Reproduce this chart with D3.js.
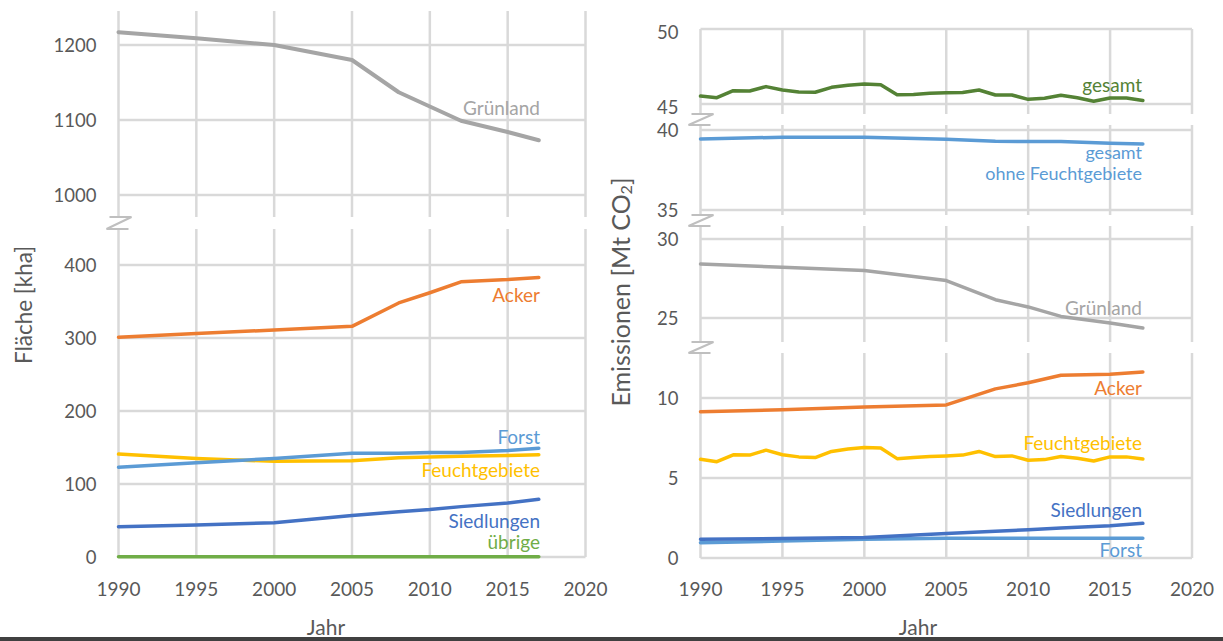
<!DOCTYPE html>
<html lang="de">
<head>
<meta charset="utf-8">
<script src="https://cdn.jsdelivr.net/npm/d3@7"></script>
<style>
  html, body { margin: 0; padding: 0; background: #fff; }
  svg { display: block; font-family: Lato, "Open Sans", sans-serif; }
</style>
</head>
<body>
<svg id="chart" width="1223" height="641"></svg>
<script>
// ---- Fläche (kha) ----
const yearsArea = [1990, 1995, 2000, 2005, 2008, 2010, 2012, 2015, 2017];
const areaGruenland = [1217, 1209, 1200, 1180, 1137, 1118, 1099, 1084, 1073];
const areaAcker = [301, 306, 311, 316, 348, 362, 377, 380, 383];
const areaForst = [123, 129, 135, 142, 142, 143, 143, 146, 149];
const areaFeucht = [141, 135, 131, 132, 136, 137, 138, 139, 140];
const areaSiedlungen = [41.5, 44, 47, 57, 62, 65, 69, 74, 79];
const areaUebrige = [0.5, 0.5, 0.5, 0.5, 0.5, 0.5, 0.5, 0.5, 0.5];

// ---- Emissionen (Mt CO2) ----
const yearsEm = d3.range(1990, 2018);
const emGesamt = [45.53, 45.42, 45.89, 45.87, 46.16, 45.93, 45.80, 45.78, 46.11, 46.25,
                  46.34, 46.29, 45.62, 45.64, 45.71, 45.75, 45.77, 45.93, 45.60, 45.60,
                  45.31, 45.38, 45.58, 45.42, 45.18, 45.40, 45.40, 45.24];
const emFeucht = [6.17, 6.02, 6.45, 6.43, 6.74, 6.45, 6.32, 6.28, 6.66, 6.81,
                  6.91, 6.87, 6.21, 6.28, 6.34, 6.38, 6.43, 6.66, 6.34, 6.38,
                  6.11, 6.15, 6.34, 6.23, 6.06, 6.32, 6.32, 6.19];
const yearsEmKey = [1990, 1995, 2000, 2005, 2008, 2010, 2012, 2015, 2017];
const emOhneFeucht = [39.44, 39.55, 39.55, 39.42, 39.30, 39.28, 39.28, 39.17, 39.13];
const emGruenland = [28.42, 28.21, 28.00, 27.37, 26.16, 25.70, 25.10, 24.68, 24.37];
const emAcker = [9.14, 9.26, 9.43, 9.57, 10.57, 10.95, 11.42, 11.49, 11.63];
const emSiedlungen = [1.17, 1.22, 1.28, 1.53, 1.67, 1.77, 1.87, 2.02, 2.17];
const emForst = [0.96, 1.06, 1.17, 1.23, 1.23, 1.23, 1.23, 1.23, 1.23];

const xTicks = [1990, 1995, 2000, 2005, 2010, 2015, 2020];

const C = {
  grid: "#d9d9d9", brk: "#bfbfbf", text: "#595959",
  gruen: "#a5a5a5", acker: "#ed7d31", forst: "#5b9bd5", feucht: "#ffc000",
  sied: "#4472c4", uebrig: "#70ad47", gesamt: "#548235"
};

const svg = d3.select("#chart");

// One broken-axis chart: several stacked panels sharing an x scale.
function drawChart(cfg) {
  const g = svg.append("g");
  const x = cfg.x;
  const ax = x(1990), xEnd = x(2020);

  cfg.panels.forEach(p => {
    p.y = d3.scaleLinear().domain(p.domain).range(p.range);
    // vertical grid lines (1990 doubles as the y axis)
    g.append("g").selectAll("line").data(xTicks).join("line")
      .attr("x1", d => x(d)).attr("x2", d => x(d))
      .attr("y1", p.top).attr("y2", p.bottom)
      .attr("stroke", C.grid).attr("stroke-width", 2.5);
    // horizontal grid lines
    g.append("g").selectAll("line").data(p.ticks).join("line")
      .attr("x1", ax).attr("x2", xEnd)
      .attr("y1", d => p.y(d)).attr("y2", d => p.y(d))
      .attr("stroke", C.grid).attr("stroke-width", 2.5);
    // tick labels
    g.append("g").selectAll("text").data(p.ticks).join("text")
      .attr("x", ax - 22).attr("y", d => p.y(d) + (p.labelShift || 0)).attr("dy", "0.36em")
      .attr("text-anchor", "end").attr("font-size", 18.5).attr("fill", C.text)
      .text(d => d);
  });

  // axis break symbols
  cfg.breaks.forEach(([yt, yb]) => {
    g.append("path")
      .attr("d", `M${ax - 9},${yt} H${ax + 13} L${ax - 12},${yb} H${ax + 10}`)
      .attr("fill", "none").attr("stroke", C.brk).attr("stroke-width", 2);
  });

  // x tick labels
  g.append("g").selectAll("text").data(xTicks).join("text")
    .attr("x", d => x(d)).attr("y", 596)
    .attr("text-anchor", "middle").attr("font-size", 19).attr("fill", C.text)
    .text(d => d);

  // series
  cfg.series.forEach(s => {
    const p = cfg.panels[s.panel];
    const pts = s.years.map((yr, i) => [yr, s.values[i]]);
    const line = d3.line().x(d => x(d[0])).y(d => p.y(d[1])).curve(d3.curveLinear);
    g.append("path").datum(pts)
      .attr("d", line).attr("fill", "none")
      .attr("stroke", s.color).attr("stroke-width", s.width || 3.5)
      .attr("stroke-linejoin", "round").attr("stroke-linecap", "round");
  });

  // series labels (one text element per line)
  cfg.labels.forEach(l => {
    l.lines.forEach((txt, i) => {
      g.append("text")
        .attr("x", cfg.labelX).attr("y", l.y + i * (l.lead || 0))
        .attr("text-anchor", "end").attr("font-size", l.size || 19).attr("fill", l.color)
        .text(txt);
    });
  });
}

// Left: area
const xL = d3.scaleLinear().domain([1990, 2020]).range([118.5, 585.5]);
drawChart({
  x: xL,
  labelX: 540,
  panels: [
    { domain: [1000, 1200], range: [195, 45], top: 11, bottom: 217, ticks: [1000, 1100, 1200] },
    { domain: [0, 400], range: [557, 265], top: 229, bottom: 557, ticks: [0, 100, 200, 300, 400] }
  ],
  breaks: [[217, 229]],
  series: [
    { panel: 0, years: yearsArea, values: areaGruenland, color: C.gruen, width: 4 },
    { panel: 1, years: yearsArea, values: areaUebrige, color: C.uebrig },
    { panel: 1, years: yearsArea, values: areaSiedlungen, color: C.sied },
    { panel: 1, years: yearsArea, values: areaFeucht, color: C.feucht },
    { panel: 1, years: yearsArea, values: areaForst, color: C.forst },
    { panel: 1, years: yearsArea, values: areaAcker, color: C.acker }
  ],
  labels: [
    { y: 115, color: C.gruen, lines: ["Grünland"] },
    { y: 302, color: C.acker, lines: ["Acker"] },
    { y: 444, color: C.forst, lines: ["Forst"] },
    { y: 477, color: C.feucht, lines: ["Feuchtgebiete"] },
    { y: 528, color: C.sied, lines: ["Siedlungen"] },
    { y: 549, color: C.uebrig, lines: ["übrige"] }
  ]
});

// Right: emissions
const xR = d3.scaleLinear().domain([1990, 2020]).range([700.5, 1192]);
drawChart({
  x: xR,
  labelX: 1142,
  panels: [
    { domain: [45, 50], range: [104, 29], top: 29, bottom: 114, ticks: [45, 50], labelShift: 3 },
    { domain: [35, 40], range: [210, 130], top: 125, bottom: 215, ticks: [35, 40] },
    { domain: [25, 30], range: [318, 239], top: 226, bottom: 342, ticks: [25, 30] },
    { domain: [0, 10], range: [558, 398], top: 353, bottom: 558, ticks: [0, 5, 10] }
  ],
  breaks: [[114, 125], [215, 226], [342, 353]],
  series: [
    { panel: 0, years: yearsEm, values: emGesamt, color: C.gesamt },
    { panel: 1, years: yearsEmKey, values: emOhneFeucht, color: C.forst },
    { panel: 2, years: yearsEmKey, values: emGruenland, color: C.gruen },
    { panel: 3, years: yearsEmKey, values: emForst, color: C.forst },
    { panel: 3, years: yearsEmKey, values: emSiedlungen, color: C.sied },
    { panel: 3, years: yearsEm, values: emFeucht, color: C.feucht },
    { panel: 3, years: yearsEmKey, values: emAcker, color: C.acker }
  ],
  labels: [
    { y: 92, color: C.gesamt, lines: ["gesamt"] },
    { y: 159, color: C.forst, lines: ["gesamt", "ohne Feuchtgebiete"], size: 18, lead: 21 },
    { y: 315, color: C.gruen, lines: ["Grünland"] },
    { y: 395, color: C.acker, lines: ["Acker"] },
    { y: 450, color: C.feucht, lines: ["Feuchtgebiete"] },
    { y: 517, color: C.sied, lines: ["Siedlungen"] },
    { y: 557, color: C.forst, lines: ["Forst"] }
  ]
});

// axis titles
svg.append("text")
  .attr("transform", "translate(23,305) rotate(-90)")
  .attr("text-anchor", "middle").attr("dominant-baseline", "central")
  .attr("font-size", 22.5).attr("fill", C.text)
  .text("Fläche [kha]");

const yt = svg.append("text")
  .attr("transform", "translate(620,292) rotate(-90)")
  .attr("text-anchor", "middle").attr("dominant-baseline", "central")
  .attr("font-size", 25).attr("fill", C.text);
yt.append("tspan").text("Emissionen [Mt CO");
yt.append("tspan").attr("font-size", 16).attr("dy", 5).text("2");
yt.append("tspan").attr("dy", -5).text("]");

svg.append("text").attr("x", 326).attr("y", 635)
  .attr("text-anchor", "middle").attr("font-size", 21).attr("fill", C.text).text("Jahr");
svg.append("text").attr("x", 918).attr("y", 635)
  .attr("text-anchor", "middle").attr("font-size", 21).attr("fill", C.text).text("Jahr");

// bottom frame edge
svg.append("rect").attr("x", 0).attr("y", 637).attr("width", 1223).attr("height", 4)
  .attr("fill", "#404040");
</script>
</body>
</html>
